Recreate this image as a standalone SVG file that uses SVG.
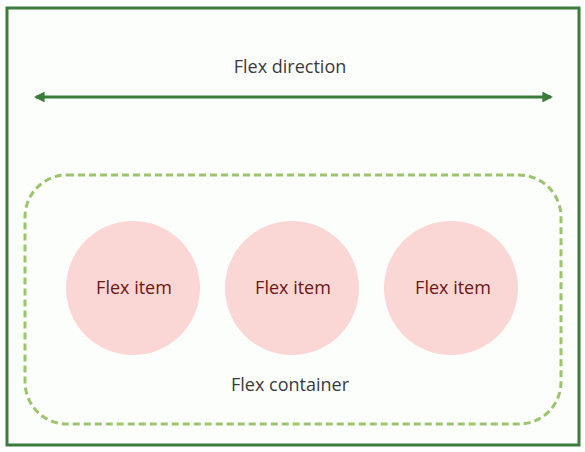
<svg xmlns="http://www.w3.org/2000/svg" width="585" height="452" viewBox="0 0 585 452">
<style>
.t{font-family:"Open Sans","Noto Sans",sans-serif;font-size:18px;text-anchor:middle}
.lbl{fill:#3a3a3a}
.item{fill:#6e1414}
.circ{fill:#fad7d4}
</style>
<defs>
<marker id="ah" viewBox="0 0 10 10" refX="8" refY="5" markerWidth="3.6" markerHeight="3.6" orient="auto-start-reverse" markerUnits="strokeWidth">
<path d="M0,0 L10,5 L0,10 z" fill="#3a7d3a"/>
</marker>
</defs>
<rect width="585" height="452" fill="#ffffff"/>
<g id="frame">
<rect x="7" y="8" width="572" height="437" fill="#fcfefc" stroke="#3a7d3a" stroke-width="3"/>
</g>
<g id="direction-label">
<text class="t lbl" x="290" y="73">Flex direction</text>
</g>
<g id="connectors">
<line x1="36" y1="97" x2="551" y2="97" stroke="#3a7d3a" stroke-width="3" marker-start="url(#ah)" marker-end="url(#ah)"/>
</g>
<g id="container">
<rect x="25" y="175" width="536" height="249" rx="42" ry="42" fill="none" stroke="#9dc46c" stroke-width="3" stroke-dasharray="7 4"/>
<text class="t lbl" x="290" y="391">Flex container</text>
</g>
<g id="item1">
<circle class="circ" cx="133" cy="288" r="67"/>
<text class="t item" x="134" y="294">Flex item</text>
</g>
<g id="item2">
<circle class="circ" cx="292" cy="288" r="67"/>
<text class="t item" x="293" y="294">Flex item</text>
</g>
<g id="item3">
<circle class="circ" cx="451" cy="288" r="67"/>
<text class="t item" x="453" y="294">Flex item</text>
</g>
</svg>
